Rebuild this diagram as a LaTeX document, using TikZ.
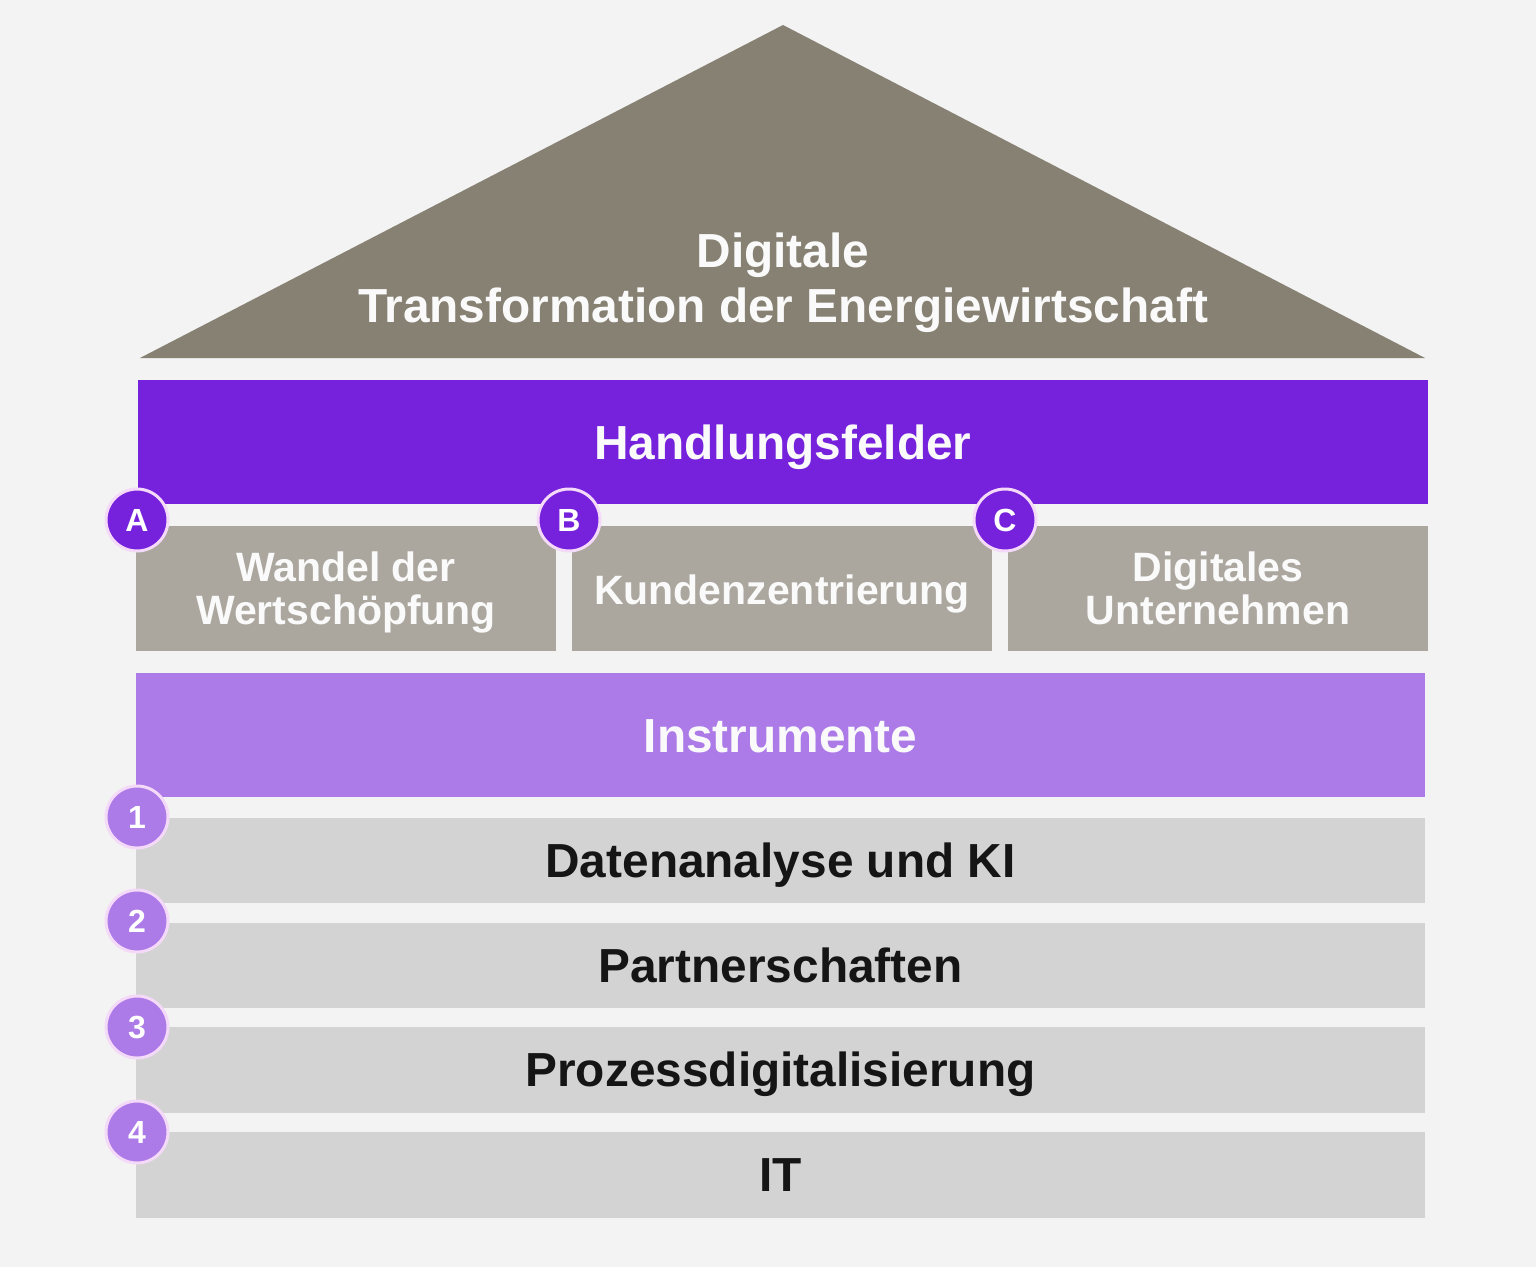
\documentclass[tikz,border=0pt]{standalone}
\usepackage{fontspec}
\setmainfont{Liberation Sans}
\definecolor{bgc}{HTML}{F3F3F3}
\definecolor{roofc}{HTML}{878173}
\definecolor{hfc}{HTML}{7622DC}
\definecolor{subc}{HTML}{ABA79F}
\definecolor{instc}{HTML}{AC7BE8}
\definecolor{rowc}{HTML}{D3D3D3}
\definecolor{ringc}{HTML}{F4DAF8}
\definecolor{darktext}{HTML}{151515}
\definecolor{lighttext}{HTML}{FAFAFA}
\tikzset{
  bar/.style={rectangle, inner sep=0pt, draw=none},
  bigtext/.style={font=\bfseries\fontsize{47.8}{55}\selectfont},
  subtext/.style={font=\bfseries\fontsize{41}{43}\selectfont, text=lighttext, align=center},
  badge/.style={circle, inner sep=0pt, minimum size=62pt, draw=ringc, line width=3pt,
    text=white, font=\bfseries\fontsize{32}{32}\selectfont, text height=23pt, text depth=0pt},
}
\begin{document}
\begin{tikzpicture}[x=1pt,y=-1pt]
  \fill[bgc] (0,0) rectangle (1536,1267);
  \useasboundingbox (0,0) rectangle (1536,1267);
  % roof
  \fill[roofc] (140,358) -- (783,25) -- (1425,358) -- cycle;
  \node[bigtext, text=lighttext, align=center, anchor=base] (roof) at (783,322)
    {Digitale\\Transformation der Energiewirtschaft};
  % Handlungsfelder
  \node[bar, fill=hfc, minimum width=1290pt, minimum height=124pt] (hf) at (783,442) {};
  \node[bigtext, text=lighttext, text height=34pt, text depth=0pt] (hft) at (hf.center) {Handlungsfelder};
  % sub boxes
  \node[bar, fill=subc, minimum width=420pt, minimum height=125pt] (sa) at (346,588.5) {};
  \node[bar, fill=subc, minimum width=420pt, minimum height=125pt] (sb) at (782,588.5) {};
  \node[bar, fill=subc, minimum width=420pt, minimum height=125pt] (sc) at (1218,588.5) {};
  \node[subtext, anchor=base] (sat) at (346,624) {Wandel der\\Wertschöpfung};
  \node[subtext, text height=29.4pt, text depth=0pt] (sbt) at ([yshift=-1pt]sb.center) {Kundenzentrierung};
  \node[subtext, anchor=base] (sct) at (1218,624) {Digitales\\Unternehmen};
  % Instrumente
  \node[bar, fill=instc, minimum width=1289pt, minimum height=124pt] (ins) at (780.5,735) {};
  \node[bigtext, text=lighttext, text height=34pt, text depth=0pt] (inst) at (ins.center) {Instrumente};
  % rows
  \node[bar, fill=rowc, minimum width=1289pt, minimum height=85pt, bigtext, text=darktext, text height=34pt, text depth=0pt] (r1) at (780.5,860.5) {Datenanalyse und KI};
  \node[bar, fill=rowc, minimum width=1289pt, minimum height=85pt, bigtext, text=darktext, text height=34pt, text depth=0pt] (r2) at (780.5,965.5) {Partnerschaften};
  \node[bar, fill=rowc, minimum width=1289pt, minimum height=86pt, bigtext, text=darktext, text height=34pt, text depth=0pt] (r3) at (780.5,1069.5) {Prozessdigitalisierung};
  \node[bar, fill=rowc, minimum width=1289pt, minimum height=86pt, bigtext, text=darktext, text height=34pt, text depth=0pt] (r4) at (780.5,1174.5) {IT};
  % badges
  \node[badge, fill=hfc] (ba) at (137,520) {A};
  \node[badge, fill=hfc] (bb) at (569,520) {B};
  \node[badge, fill=hfc] (bc) at (1005,520) {C};
  \node[badge, fill=instc] (b1) at (137,817) {1};
  \node[badge, fill=instc] (b2) at (137,921) {2};
  \node[badge, fill=instc] (b3) at (137,1027) {3};
  \node[badge, fill=instc] (b4) at (137,1132) {4};
\end{tikzpicture}
\end{document}
